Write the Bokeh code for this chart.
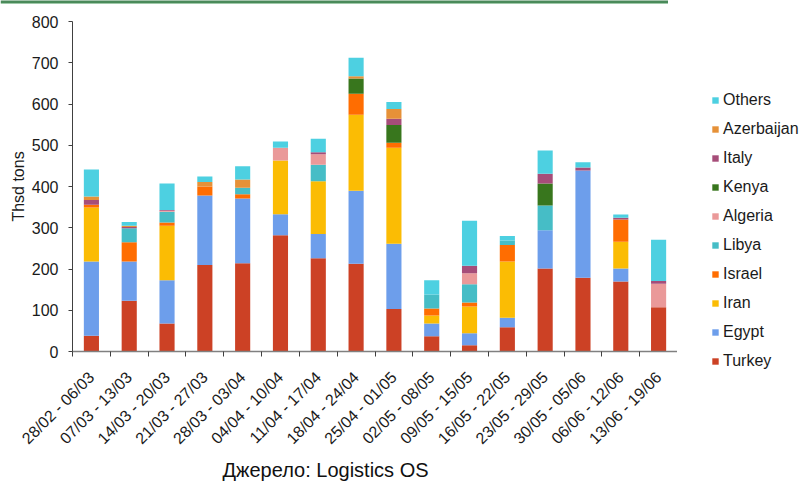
from bokeh.plotting import figure
from bokeh.models import (ColumnDataSource, FixedTicker, Legend, LegendItem, Title, Range1d)
from bokeh.layouts import column, row
from bokeh.embed import file_html
from bokeh.resources import INLINE
from math import pi

periods = ["28/02 - 06/03", "07/03 - 13/03", "14/03 - 20/03", "21/03 - 27/03",
           "28/03 - 03/04", "04/04 - 10/04", "11/04 - 17/04", "18/04 - 24/04",
           "25/04 - 01/05", "02/05 - 08/05", "09/05 - 15/05", "16/05 - 22/05",
           "23/05 - 29/05", "30/05 - 05/06", "06/06 - 12/06", "13/06 - 19/06"]

countries = ["Turkey", "Egypt", "Iran", "Israel", "Libya", "Algeria",
             "Kenya", "Italy", "Azerbaijan", "Others"]

turkey     = [38, 123, 68, 210, 214, 282, 226, 213, 103, 37, 15, 59, 201, 179, 170, 107]
egypt      = [180, 95, 105, 168, 157, 51, 59, 177, 158, 31, 29, 23, 93, 260, 31, 0]
iran       = [131, 0, 132, 0, 0, 130, 128, 184, 233, 19, 65, 136, 0, 0, 65, 0]
israel     = [7, 47, 8, 22, 10, 0, 0, 51, 12, 17, 10, 40, 0, 0, 54, 0]
libya      = [0, 34, 26, 0, 16, 0, 40, 0, 0, 34, 44, 11, 60, 0, 0, 0]
algeria    = [0, 0, 2, 0, 0, 31, 25, 0, 0, 0, 27, 0, 0, 0, 0, 57]
kenya      = [0, 0, 0, 0, 0, 0, 0, 37, 43, 0, 0, 0, 53, 0, 0, 0]
italy      = [11, 3, 2, 0, 0, 0, 5, 0, 15, 0, 18, 0, 24, 7, 4, 7]
azerbaijan = [9, 3, 0, 11, 20, 0, 0, 5, 24, 0, 0, 0, 0, 0, 0, 0]
others     = [65, 9, 64, 13, 32, 15, 33, 45, 17, 35, 109, 11, 56, 13, 8, 100]

colors = ["#CC4125", "#6D9EEB", "#FBBC04", "#FF6D01", "#46BDC6", "#EA9999",
          "#38761D", "#A64D79", "#E69138", "#4DD0E1"]

y_ticks = [0, 100, 200, 300, 400, 500, 600, 700, 800]

FONT = "Liberation Sans"

n = len(periods)
centers = [i + 0.5 for i in range(n)]
bounds = [float(i) for i in range(n + 1)]

data = dict(x=centers)
for name, vals in zip(countries, [turkey, egypt, iran, israel, libya, algeria,
                                  kenya, italy, azerbaijan, others]):
    data[name] = vals
source = ColumnDataSource(data)

p = figure(output_backend="svg", toolbar_location=None,
           frame_width=605, frame_height=330,
           min_border_left=72, min_border_right=0,
           min_border_top=9, min_border_bottom=124,
           x_range=Range1d(0, n), y_range=Range1d(0, 800))
p.frame_align = False
p.outline_line_color = None
p.xgrid.visible = False
p.ygrid.visible = False

renderers = p.vbar_stack(countries, x="x", width=0.4, source=source,
                         color=colors, line_color=None)

# y axis
ya = p.yaxis[0]
ya.ticker = FixedTicker(ticks=y_ticks, minor_ticks=[])
ya.axis_label = "Thsd tons"
ya.axis_label_text_font = FONT
ya.axis_label_text_font_style = "normal"
ya.axis_label_text_font_size = "16px"
ya.axis_label_text_color = "#1a1a1a"
ya.axis_label_standoff = 2
ya.major_label_text_font = FONT
ya.major_label_text_font_size = "16px"
ya.major_label_text_color = "#1a1a1a"
ya.major_label_standoff = 10
ya.axis_line_color = "#404040"
ya.major_tick_line_color = "#404040"
ya.major_tick_out = 4
ya.major_tick_in = 0
ya.minor_tick_line_color = None

# x axis
xa = p.xaxis[0]
xa.ticker = FixedTicker(ticks=centers, minor_ticks=bounds)
xa.major_label_overrides = {c: lab for c, lab in zip(centers, periods)}
xa.major_label_orientation = pi / 4
xa.major_label_text_font = FONT
xa.major_label_text_font_size = "16px"
xa.major_label_text_color = "#1a1a1a"
xa.major_label_standoff = 18
xa.major_tick_line_color = None
xa.major_tick_out = 0
xa.major_tick_in = 0
xa.minor_tick_line_color = "#404040"
xa.minor_tick_out = 5
xa.minor_tick_in = 0
xa.axis_line_color = "#808080"
xa.axis_line_width = 1.5

footer = Title(text="Джерело: Logistics OS", align="left", offset=150,
               text_font=FONT, text_font_size="20px", text_font_style="normal",
               text_color="#111111", standoff=1)
p.add_layout(footer, "below")

# legend panel
lf = figure(output_backend="svg", toolbar_location=None,
            width=122, height=469, min_border=0,
            x_range=Range1d(0, 1), y_range=Range1d(0, 1))
lf.frame_align = False
lf.axis.visible = False
lf.grid.visible = False
lf.outline_line_color = None
dummies = {}
for name, c in zip(countries, colors):
    dummies[name] = lf.vbar(x=[0], top=[0], width=0, color=c, line_color=None)

items = [LegendItem(label=name, renderers=[dummies[name]])
         for name in reversed(countries)]
legend = Legend(items=items, location=(34, 110),
                glyph_width=8, glyph_height=8, label_height=20, spacing=9,
                label_standoff=4, padding=0, margin=0,
                label_text_font=FONT, label_text_font_size="16px",
                label_text_color="#1a1a1a",
                border_line_color=None, background_fill_alpha=0)
lf.add_layout(legend)

# top green rule (decorative band across the top of the page)
top_rule = figure(output_backend="svg", toolbar_location=None,
                  width=668, height=12, min_border=0,
                  x_range=Range1d(0, 1), y_range=Range1d(0, 12),
                  background_fill_color="white", border_fill_color="white")
top_rule.frame_align = False
top_rule.axis.visible = False
top_rule.grid.visible = False
top_rule.outline_line_color = None
top_rule.quad(left=[0], right=[1], bottom=[9.6], top=[12.5],
              fill_color="#4a8a5a", line_color=None)
top_rule.quad(left=[0], right=[1], bottom=[8.6], top=[9.6],
              fill_color="#9fc9a9", line_color=None)

layout = column(top_rule, row(p, lf, spacing=0), spacing=0)

open("out.html", "w").write(file_html(layout, INLINE))
